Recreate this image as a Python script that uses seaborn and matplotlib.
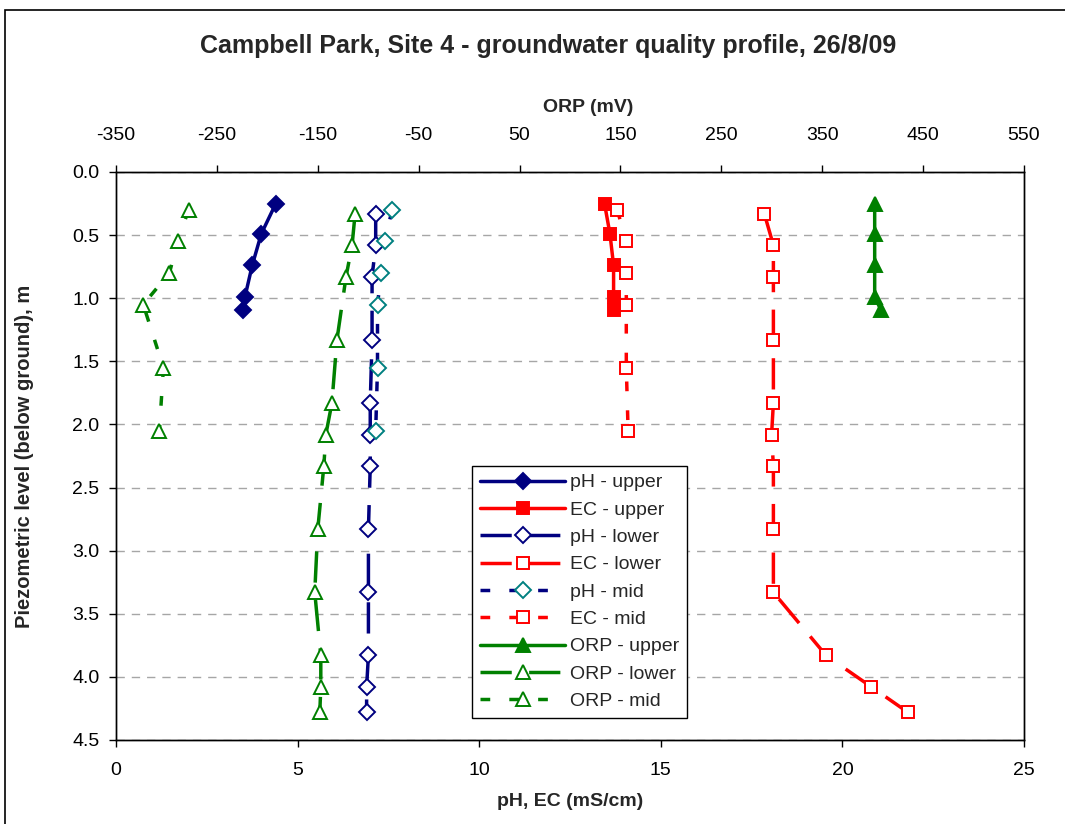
import matplotlib
matplotlib.use("Agg")
import matplotlib.pyplot as plt
import matplotlib.patches as mpatches
import pandas as pd
import seaborn as sns

# depths (m below ground) for each piezometer
depth_upper = [0.25, 0.49, 0.74, 0.99, 1.09]
depth_mid = [0.30, 0.55, 0.80, 1.05, 1.55, 2.05]
depth_lower = [0.33, 0.58, 0.83, 1.33, 1.83, 2.08, 2.33, 2.83, 3.33, 3.83, 4.08, 4.28]

# pH
ph_upper = [4.4, 4.0, 3.75, 3.55, 3.5]
ph_lower = [7.15, 7.15, 7.05, 7.05, 7.0, 7.0, 7.0, 6.95, 6.95, 6.95, 6.9, 6.9]
ph_mid = [7.6, 7.4, 7.3, 7.2, 7.2, 7.15]

# EC (mS/cm)
ec_upper = [13.45, 13.6, 13.7, 13.7, 13.7]
ec_lower = [17.85, 18.1, 18.1, 18.1, 18.1, 18.05, 18.1, 18.1, 18.1, 19.55, 20.8, 21.8]
ec_mid = [13.8, 14.05, 14.05, 14.05, 14.05, 14.1]

# ORP (mV)
orp_upper = [402, 402, 402, 402, 408]
orp_lower = [-113, -116, -122, -131, -136, -142, -144, -150, -153, -147, -147, -148]
orp_mid = [-278, -289, -297, -323, -303, -307]

sns.set_style("ticks")
plt.rcParams["font.family"] = ["Liberation Sans", "DejaVu Sans"]
plt.rcParams["axes.unicode_minus"] = False

NAVY, RED, GREEN, TEAL = "#000080", "#FF0000", "#008000", "#008080"
LONG = (0, (9, 5))
SHORT = (0, (2.8, 5.5))

W, H = 1065, 824
fig = plt.figure(figsize=(W / 100, H / 100), dpi=100)
ax = fig.add_axes([116 / W, 1 - 740 / H, (1024 - 116) / W, (740 - 172) / H])
ax2 = ax.twiny()


def draw(axis, x, y, color, marker, ms, ls, face, edge, label):
    df = pd.DataFrame({"x": x, "y": y})
    sns.lineplot(data=df, x="x", y="y", sort=False, estimator=None, ax=axis,
                 color=color, linewidth=2.5, linestyle=ls, marker=marker,
                 markersize=ms, markerfacecolor=face, markeredgecolor=edge,
                 markeredgewidth=1.4, label=label, legend=False)


draw(ax, ph_upper, depth_upper, NAVY, "D", 8, "-", NAVY, NAVY, "pH - upper")
draw(ax, ec_upper, depth_upper, RED, "s", 8, "-", RED, RED, "EC - upper")
draw(ax, ph_lower, depth_lower, NAVY, "D", 8, LONG, "white", NAVY, "pH - lower")
draw(ax, ec_lower, depth_lower, RED, "s", 8, LONG, "white", RED, "EC - lower")
draw(ax, ph_mid, depth_mid, NAVY, "D", 8, SHORT, "white", TEAL, "pH - mid")
draw(ax, ec_mid, depth_mid, RED, "s", 8, SHORT, "white", RED, "EC - mid")
draw(ax2, orp_upper, depth_upper, GREEN, "^", 10, "-", GREEN, GREEN, "ORP - upper")
draw(ax2, orp_lower, depth_lower, GREEN, "^", 10, LONG, "white", GREEN, "ORP - lower")
draw(ax2, orp_mid, depth_mid, GREEN, "^", 10, SHORT, "white", GREEN, "ORP - mid")

ax.set_xlim(0, 25)
ax.set_ylim(4.5, 0)
ax2.set_xlim(-350, 550)
ax.set_xticks(range(0, 26, 5))
ax2.set_xticks(range(-350, 551, 100))
ax.set_yticks([i * 0.5 for i in range(10)])
ax.set_yticklabels([f"{i * 0.5:.1f}" for i in range(10)])

for a in (ax, ax2):
    for s in a.spines.values():
        s.set_color("black")
        s.set_linewidth(1.0)
ax.grid(False)
ax2.grid(False)
ax.yaxis.grid(True, color="#A6A6A6", linestyle=(0, (6, 5)), linewidth=1.0)
ax.set_axisbelow(True)

ax.tick_params(axis="x", direction="out", length=5, width=1, labelsize=14, pad=11, colors="black")
ax.tick_params(axis="y", direction="out", length=5, width=1, labelsize=14, pad=7, colors="black")
ax.tick_params(right=False, top=False)
ax2.tick_params(axis="x", direction="out", length=5, width=1, labelsize=14, pad=15, colors="black")

ax.set_xlabel("pH, EC (mS/cm)", fontsize=14, fontweight="bold", labelpad=10)
ax2.set_xlabel("ORP (mV)", fontsize=14, fontweight="bold")
ax2.xaxis.set_label_coords(0.52, 1.105)
ax.set_ylabel("Piezometric level (below ground), m", fontsize=14.5, fontweight="bold")
ax.yaxis.set_label_coords(-0.09, 0.5)

fig.text(548 / W, 1 - 46 / H, "Campbell Park, Site 4 - groundwater quality profile, 26/8/09",
         ha="center", va="center", fontsize=18, fontweight="bold")

handles = ax.get_lines() + ax2.get_lines()
handles = [h for h in handles if not h.get_label().startswith("_")]
order = ["pH - upper", "EC - upper", "pH - lower", "EC - lower", "pH - mid",
         "EC - mid", "ORP - upper", "ORP - lower", "ORP - mid"]
hmap = {h.get_label(): h for h in handles}
leg = fig.legend([hmap[k] for k in order], order, loc="upper left",
                 bbox_to_anchor=(472 / W, 1 - 466 / H), fontsize=14,
                 frameon=True, fancybox=False, shadow=False, framealpha=1,
                 edgecolor="black", handlelength=4.4, labelspacing=0.5,
                 borderpad=0.4, handletextpad=0.25, borderaxespad=0)
leg.get_frame().set_linewidth(1.0)

# outer chart border (top and left visible)
fig.patches.append(mpatches.Rectangle((5 / W, -0.2), 2, 1.2 - 10 / H, fill=False,
                                      edgecolor="black", linewidth=1.2,
                                      transform=fig.transFigure, figure=fig))

fig.savefig("out.png", dpi=100)
